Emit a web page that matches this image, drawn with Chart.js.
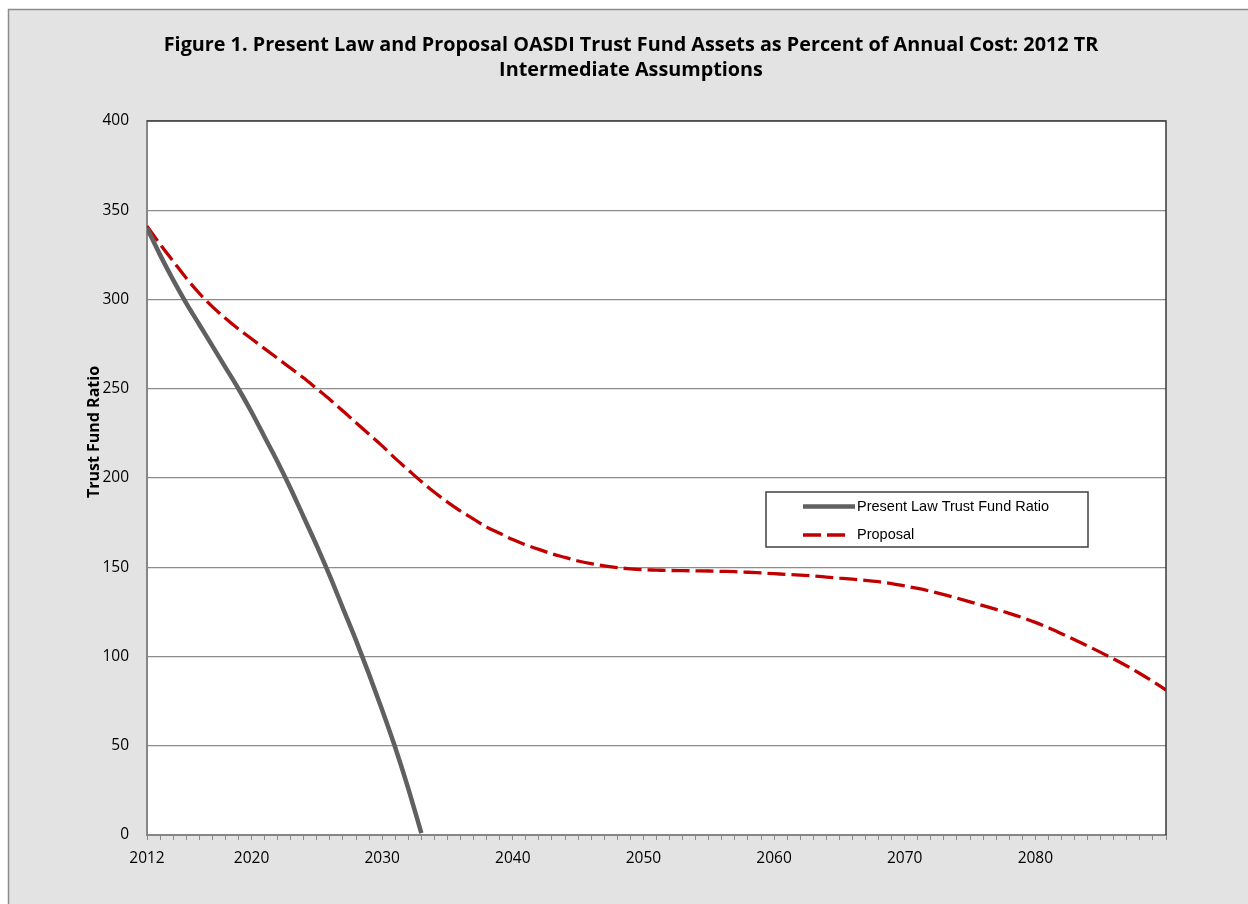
<!DOCTYPE html>
<html lang="en">
<head>
    <meta charset="UTF-8">
    <title>Figure 1</title>
    <script src="https://cdn.jsdelivr.net/npm/chart.js"></script>
    <style>
        body { margin: 0; background: #fff; }
        .chart-container { width: 1248px; height: 904px; }
    </style>
</head>
<body>
    <div class="chart-container">
        <canvas id="tfChart" width="1248" height="904"></canvas>
    </div>

    <script>
        // years on the x axis
        const years = [
            2012, 2013, 2014, 2015, 2016, 2017, 2018, 2019, 2020, 2021,
            2022, 2023, 2024, 2025, 2026, 2027, 2028, 2029, 2030, 2031,
            2032, 2033, 2034, 2035, 2036, 2037, 2038, 2039, 2040, 2041,
            2042, 2043, 2044, 2045, 2046, 2047, 2048, 2049, 2050, 2051,
            2052, 2053, 2054, 2055, 2056, 2057, 2058, 2059, 2060, 2061,
            2062, 2063, 2064, 2065, 2066, 2067, 2068, 2069, 2070, 2071,
            2072, 2073, 2074, 2075, 2076, 2077, 2078, 2079, 2080, 2081,
            2082, 2083, 2084, 2085, 2086, 2087, 2088, 2089, 2090
        ];

        // present law ratio, 2012 until depletion in 2033
        const presentLaw = [
            340, 325, 311, 298, 286, 274, 262, 250, 237, 223,
            209, 194, 178, 162, 145, 127, 109, 90, 70, 49,
            26, 1
        ];

        // proposal ratio, 2012-2090
        const proposal = [
            341, 331, 321.5, 312, 303.5, 296, 289.5, 283.5, 278, 272.5,
            267, 261.5, 256, 250, 244, 237.5, 231, 224.5, 218, 211,
            204.5, 198, 192, 186.5, 181.5, 177, 172.5, 169, 165.5, 162.5,
            160, 157.5, 155.5, 153.5, 152, 150.8, 149.8, 149.1, 148.6, 148.4,
            148.2, 148.1, 148, 147.9, 147.7, 147.5, 147.2, 146.8, 146.4, 146,
            145.6, 145.1, 144.5, 143.9, 143.3, 142.7, 141.9, 140.8, 139.5, 138.1,
            136.5, 134.7, 132.7, 130.6, 128.5, 126.4, 124.2, 121.8, 119.1, 116.1,
            112.8, 109.4, 105.9, 102.3, 98.6, 94.7, 90.5, 86, 81.2
        ];

        const labeledYears = [2012, 2020, 2030, 2040, 2050, 2060, 2070, 2080];
        const yTicks = [0, 50, 100, 150, 200, 250, 300, 350, 400];

        const titleText = [
            'Figure 1. Present Law and Proposal OASDI Trust Fund Assets as Percent of Annual Cost: 2012 TR',
            'Intermediate Assumptions'
        ];
        const yTitle = 'Trust Fund Ratio';

        const toPoints = (vals) => vals.map((v, i) => ({ x: years[i], y: v }));

        // grey panel, white plot area, dark top/right frame and the y title
        const backdrop = {
            id: 'backdrop',
            beforeDraw(chart) {
                const { ctx, width, height, chartArea: a } = chart;
                ctx.save();
                ctx.fillStyle = '#ffffff';
                ctx.fillRect(0, 0, width, height);
                ctx.fillStyle = '#e3e3e3';
                ctx.fillRect(8, 9, width, height);
                ctx.strokeStyle = '#8c8c8c';
                ctx.lineWidth = 1.5;
                ctx.strokeRect(8.5, 9.5, width + 10, height + 10);
                ctx.fillStyle = '#ffffff';
                ctx.fillRect(a.left, a.top, a.right - a.left, a.bottom - a.top);
                ctx.restore();
            },
            afterDatasetsDraw(chart) {
                const { ctx, chartArea: a } = chart;
                ctx.save();
                ctx.strokeStyle = '#3a3a3a';
                ctx.lineWidth = 1.5;
                ctx.beginPath();
                ctx.moveTo(a.left, a.top);
                ctx.lineTo(a.right, a.top);
                ctx.lineTo(a.right, a.bottom);
                ctx.stroke();
                ctx.translate(94, 432);
                ctx.rotate(-Math.PI / 2);
                ctx.fillStyle = '#000';
                ctx.font = 'bold 16px "Open Sans", sans-serif';
                ctx.textAlign = 'center';
                ctx.textBaseline = 'middle';
                ctx.fillText(yTitle, 0, 0);
                ctx.restore();
            }
        };

        // boxed legend inside the plot
        const boxLegend = {
            id: 'boxLegend',
            afterDraw(chart) {
                const { ctx } = chart;
                const bx = 766, by = 492, bw = 322, bh = 55;
                ctx.save();
                ctx.fillStyle = '#ffffff';
                ctx.fillRect(bx, by, bw, bh);
                ctx.strokeStyle = '#404040';
                ctx.lineWidth = 1.5;
                ctx.strokeRect(bx, by, bw, bh);
                const rows = [506.5, 535];
                chart.data.datasets.forEach((ds, i) => {
                    const y = rows[i];
                    ctx.strokeStyle = ds.borderColor;
                    ctx.lineWidth = ds.borderWidth;
                    ctx.setLineDash(ds.borderDash || []);
                    ctx.beginPath();
                    ctx.moveTo(803, y);
                    ctx.lineTo(i === 0 ? 855 : 846, y);
                    ctx.stroke();
                    ctx.setLineDash([]);
                    ctx.fillStyle = '#000';
                    ctx.font = '14.5px "Liberation Sans", Arial, sans-serif';
                    ctx.textBaseline = 'middle';
                    ctx.fillText(ds.label, 857, y);
                });
                ctx.restore();
            }
        };

        const ctx = document.getElementById('tfChart').getContext('2d');
        const tfChart = new Chart(ctx, {
            type: 'line',
            data: {
                datasets: [
                    {
                        label: 'Present Law Trust Fund Ratio',
                        data: toPoints(presentLaw),
                        borderColor: '#606060',
                        borderWidth: 4.5,
                        pointRadius: 0,
                        cubicInterpolationMode: 'monotone',
                        fill: false
                    },
                    {
                        label: 'Proposal',
                        data: toPoints(proposal),
                        borderColor: '#c00000',
                        borderWidth: 3.3,
                        borderDash: [18, 6],
                        pointRadius: 0,
                        cubicInterpolationMode: 'monotone',
                        fill: false
                    }
                ]
            },
            options: {
                responsive: false,
                animation: false,
                layout: {
                    padding: { left: 96, right: 82, top: 0, bottom: 0 }
                },
                plugins: {
                    legend: { display: false },
                    tooltip: { enabled: false },
                    title: {
                        display: true,
                        text: titleText,
                        color: '#000',
                        font: { family: '"Open Sans", sans-serif', size: 19.8, weight: 'bold', lineHeight: '25px' },
                        padding: { top: 32.5, bottom: 38.5 }
                    }
                },
                scales: {
                    x: {
                        type: 'linear',
                        min: 2012,
                        max: 2090,
                        afterBuildTicks(scale) {
                            scale.ticks = years.map(v => ({ value: v }));
                        },
                        afterFit(scale) { scale.height = 69; },
                        ticks: {
                            autoSkip: false,
                            maxRotation: 0,
                            padding: 9,
                            color: '#000',
                            font: { family: '"Open Sans", sans-serif', size: 15.5 },
                            callback: (v) => labeledYears.includes(v) ? String(v) : ''
                        },
                        grid: {
                            drawOnChartArea: false,
                            drawTicks: true,
                            tickLength: 5,
                            color: '#8a8a8a'
                        },
                        border: { color: '#868686', width: 2 }
                    },
                    y: {
                        min: 0,
                        max: 400,
                        afterBuildTicks(scale) {
                            scale.ticks = yTicks.map(v => ({ value: v }));
                        },
                        afterFit(scale) { scale.width = 51; },
                        ticks: {
                            padding: 18,
                            color: '#000',
                            font: { family: '"Open Sans", sans-serif', size: 15.5 }
                        },
                        grid: {
                            drawTicks: false,
                            color: '#8c8c8c',
                            lineWidth: 1.2
                        },
                        border: { color: '#868686', width: 2 }
                    }
                }
            },
            plugins: [backdrop, boxLegend]
        });
    </script>
</body>
</html>
